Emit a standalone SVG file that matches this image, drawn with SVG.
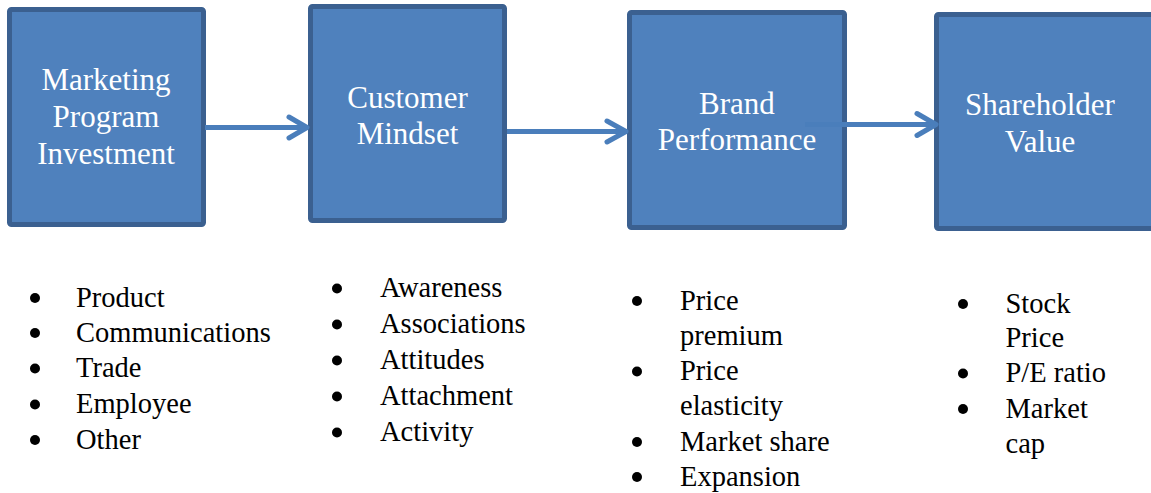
<svg xmlns="http://www.w3.org/2000/svg" width="1151" height="493" viewBox="0 0 1151 493" font-family="Liberation Serif">
  <style>
    .box { fill: #4f81bd; stroke: #3b6090; stroke-width: 5; }
    .conn { fill: none; stroke: #4a7ebb; stroke-width: 5; }
    .head { fill: none; stroke: #4a7ebb; stroke-width: 5; stroke-linecap: round; stroke-linejoin: round; }
  </style>
  <rect width="1151" height="493" fill="#fff"/>

  <!-- stage boxes -->
  <g id="node-marketing">
    <rect class="box" x="9.5" y="9.5" width="194" height="215" rx="2"/>
    <text x="106" y="89.5" font-family="Liberation Serif" font-size="31" fill="#fff" text-anchor="middle">Marketing</text>
    <text x="106" y="127" font-family="Liberation Serif" font-size="31" fill="#fff" text-anchor="middle">Program</text>
    <text x="106" y="164" font-family="Liberation Serif" font-size="31" fill="#fff" text-anchor="middle">Investment</text>
  </g>
  <g id="node-customer">
    <rect class="box" x="310.5" y="6.5" width="194" height="214" rx="2"/>
    <text x="407.5" y="107.5" font-family="Liberation Serif" font-size="31" fill="#fff" text-anchor="middle">Customer</text>
    <text x="407.5" y="144" font-family="Liberation Serif" font-size="31" fill="#fff" text-anchor="middle">Mindset</text>
  </g>
  <g id="node-brand">
    <rect class="box" x="629.5" y="12.5" width="215" height="215" rx="2"/>
    <text x="737" y="113.5" font-family="Liberation Serif" font-size="31" fill="#fff" text-anchor="middle">Brand</text>
    <text x="737" y="150" font-family="Liberation Serif" font-size="31" fill="#fff" text-anchor="middle">Performance</text>
  </g>
  <g id="node-shareholder">
    <rect class="box" x="936.5" y="14.5" width="240" height="214" rx="2"/>
    <text x="1040" y="115" font-family="Liberation Serif" font-size="31" fill="#fff" text-anchor="middle">Shareholder</text>
    <text x="1040" y="151.5" font-family="Liberation Serif" font-size="31" fill="#fff" text-anchor="middle">Value</text>
  </g>

  <!-- connectors -->
  <g id="connectors">
    <line class="conn" x1="205" y1="127.5" x2="305" y2="127.5"/>
    <polyline class="head" points="289,117 307,127.5 289,138"/>
    <line class="conn" x1="507" y1="131.5" x2="624" y2="131.5"/>
    <polyline class="head" points="607,121 626,131.5 607,142"/>
    <line class="conn" x1="805" y1="124.5" x2="934" y2="124.5"/>
    <polyline class="head" points="917,113.5 936,124.5 917,135.5"/>
  </g>

  <!-- bullet lists -->
  <g id="list-marketing" fill="#000">
    <circle cx="35" cy="298" r="5"/>
    <text x="76" y="306.5" font-family="Liberation Serif" font-size="28.5">Product</text>
    <circle cx="35" cy="333" r="5"/>
    <text x="76" y="341.5" font-family="Liberation Serif" font-size="28.5">Communications</text>
    <circle cx="35" cy="368.5" r="5"/>
    <text x="76" y="377" font-family="Liberation Serif" font-size="28.5">Trade</text>
    <circle cx="35" cy="404.5" r="5"/>
    <text x="76" y="413" font-family="Liberation Serif" font-size="28.5">Employee</text>
    <circle cx="35" cy="440" r="5"/>
    <text x="76" y="448.5" font-family="Liberation Serif" font-size="28.5">Other</text>
  </g>
  <g id="list-customer" fill="#000">
    <circle cx="337" cy="288.5" r="5"/>
    <text x="380" y="297" font-family="Liberation Serif" font-size="28.5">Awareness</text>
    <circle cx="337" cy="324.5" r="5"/>
    <text x="380" y="333" font-family="Liberation Serif" font-size="28.5">Associations</text>
    <circle cx="337" cy="360.5" r="5"/>
    <text x="380" y="369" font-family="Liberation Serif" font-size="28.5">Attitudes</text>
    <circle cx="337" cy="396.5" r="5"/>
    <text x="380" y="405" font-family="Liberation Serif" font-size="28.5">Attachment</text>
    <circle cx="337" cy="432.5" r="5"/>
    <text x="380" y="441" font-family="Liberation Serif" font-size="28.5">Activity</text>
  </g>
  <g id="list-brand" fill="#000">
    <circle cx="637" cy="301" r="5"/>
    <text x="680" y="309.5" font-family="Liberation Serif" font-size="28.5">Price</text>
    <text x="680" y="344.5" font-family="Liberation Serif" font-size="28.5">premium</text>
    <circle cx="637" cy="371.5" r="5"/>
    <text x="680" y="380" font-family="Liberation Serif" font-size="28.5">Price</text>
    <text x="680" y="415" font-family="Liberation Serif" font-size="28.5">elasticity</text>
    <circle cx="637" cy="442" r="5"/>
    <text x="680" y="450.5" font-family="Liberation Serif" font-size="28.5">Market share</text>
    <circle cx="637" cy="477" r="5"/>
    <text x="680" y="485.5" font-family="Liberation Serif" font-size="28.5">Expansion</text>
  </g>
  <g id="list-shareholder" fill="#000">
    <circle cx="963" cy="304" r="5"/>
    <text x="1005.5" y="312.5" font-family="Liberation Serif" font-size="28.5">Stock</text>
    <text x="1005.5" y="347" font-family="Liberation Serif" font-size="28.5">Price</text>
    <circle cx="963" cy="373.5" r="5"/>
    <text x="1005.5" y="382" font-family="Liberation Serif" font-size="28.5">P/E ratio</text>
    <circle cx="963" cy="409" r="5"/>
    <text x="1005.5" y="417.5" font-family="Liberation Serif" font-size="28.5">Market</text>
    <text x="1005.5" y="452.5" font-family="Liberation Serif" font-size="28.5">cap</text>
  </g>
</svg>
